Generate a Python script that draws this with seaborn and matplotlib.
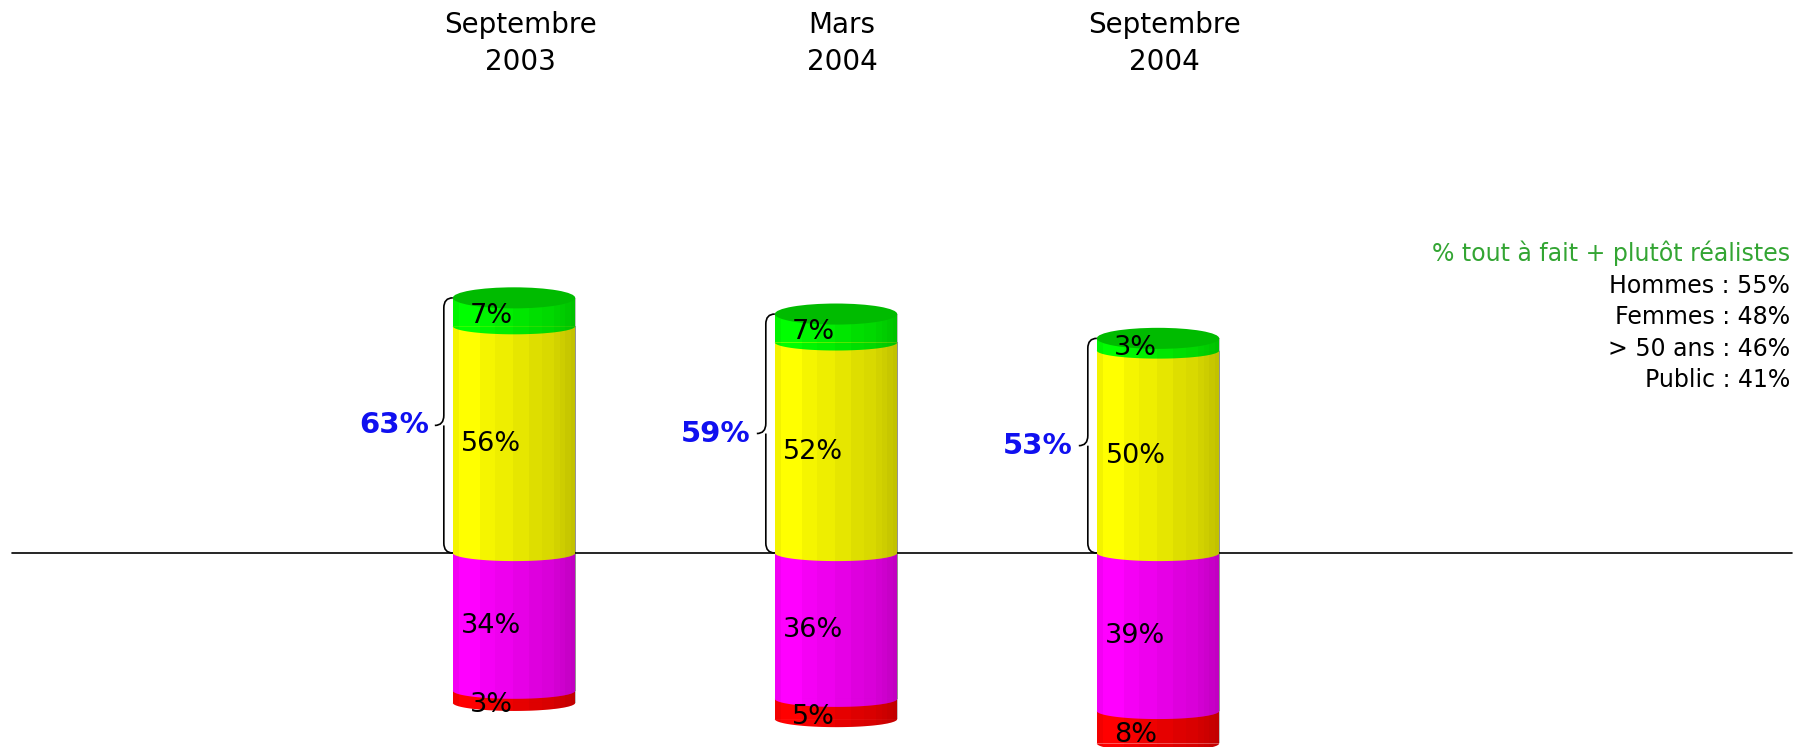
import numpy as np
import pandas as pd
import matplotlib
matplotlib.use("Agg")
import matplotlib.pyplot as plt
import seaborn as sns
from matplotlib.path import Path
from matplotlib.patches import PathPatch, Polygon, Ellipse

# ---------------- data ----------------
periodes = ["Septembre\n2003", "Mars\n2004", "Septembre\n2004"]
tout_a_fait = [7, 7, 3]          # green (top)
plutot = [56, 52, 50]            # yellow
plutot_pas = [34, 36, 39]        # magenta (below zero)
pas_du_tout = [3, 5, 8]          # red (bottom)
totaux = [63, 59, 53]            # % realistes (brace labels)
legende_titre = "% tout à fait + plutôt réalistes"
legende_lignes = ["Hommes : 55%", "Femmes : 48%", "> 50 ans : 46%", "Public : 41%"]

GREEN, YELLOW, MAGENTA, RED, CAP = "#00FF00", "#FFFF00", "#FF00FF", "#FF0000", "#00BB00"
BLUE = "#1010F0"
LEG_GREEN = "#33A533"

df = pd.DataFrame({
    "periode": periodes,
    "pos_total": np.array(plutot) + np.array(tout_a_fait),
    "jaune": plutot,
    "neg_total": -(np.array(plutot_pas) + np.array(pas_du_tout)),
    "magenta": -np.array(plutot_pas),
})

sns.set_theme(style="white")
plt.rcParams["font.family"] = ["DejaVu Sans"]
plt.rcParams["text.color"] = "black"

W_PX, H_PX = 1809, 747
fig = plt.figure(figsize=(W_PX / 100, H_PX / 100), dpi=100)
ax = fig.add_axes([0, 0, 1, 1])

X0_PX, UX = 514.0, 322.0     # px of first bar, px per category
Y0_PX, UY = 553.0, 4.05      # px of zero line, px per %
XLIM = (-X0_PX / UX, (W_PX - X0_PX) / UX)
YLIM = (-(H_PX - Y0_PX) / UY, Y0_PX / UY)
px_x = 1.0 / UX
px_y = 1.0 / UY

BW = 0.38          # bar width (category units)
HB = 2.0           # ellipse semi-height of segment edges (% units)
HC = 2.6           # semi-height of top cap

edges = np.array([0, .05, .22, .34, .49, .62, .72, .82, .87, .91, .96, 1.0])
bright = np.array([.95, 1.0, .96, .93, .90, .87, .85, .82, .80, .78, .76])
N = 240
cols = np.linspace(0, 1, N, endpoint=False) + 0.5 / N
idx = np.clip(np.searchsorted(edges, cols, side="right") - 1, 0, len(bright) - 1)
shade_img = np.zeros((1, N, 4))
shade_img[0, :, 3] = 1 - bright[idx]


def shade(patch, xc, z):
    im = ax.imshow(shade_img, extent=[xc - BW / 2, xc + BW / 2, YLIM[0], YLIM[1]],
                   aspect="auto", interpolation="nearest", zorder=z)
    im.set_clip_path(patch)


def layer(col, color, z):
    n0 = len(ax.patches)
    sns.barplot(data=df, x="periode", y=col, color=color, saturation=1, width=BW,
                errorbar=None, ax=ax, linewidth=0)
    for i, p in enumerate(ax.patches[n0:]):
        p.set_zorder(z)
        shade(p, i, z + 0.01)


def bulge(xc, base, color, z):
    t = np.linspace(np.pi, 2 * np.pi, 80)
    xs = xc + BW / 2 * np.cos(t)
    ys = base + HB * np.sin(t)
    poly = Polygon(np.column_stack([xs, ys]), closed=True, facecolor=color,
                   edgecolor="none", zorder=z)
    ax.add_patch(poly)
    shade(poly, xc, z + 0.01)


# negative side
layer("neg_total", RED, 1)
layer("magenta", MAGENTA, 2)
for i in range(len(periodes)):
    bulge(i, df["neg_total"][i], RED, 3)
    bulge(i, df["magenta"][i], MAGENTA, 4)
# positive side
layer("pos_total", GREEN, 5)
layer("jaune", YELLOW, 6)
for i in range(len(periodes)):
    bulge(i, 0, YELLOW, 7)
    bulge(i, df["jaune"][i], GREEN, 8)
    ax.add_patch(Ellipse((i, df["pos_total"][i]), BW, 2 * HC, facecolor=CAP,
                         edgecolor="none", zorder=9))

# zero line
ax.axhline(0, xmin=12 / W_PX, xmax=1792 / W_PX, color="black", lw=1.2, zorder=0.5)

# segment labels
LFS = 19.5
for i in range(len(periodes)):
    xl = i - 0.07
    g, y, m, r = tout_a_fait[i], plutot[i], plutot_pas[i], pas_du_tout[i]
    kw = dict(ha="center", va="center", fontsize=LFS, color="black", zorder=10)
    ax.text(xl, y + g / 2 - 1, f"{g}%", **kw)
    ax.text(xl, y / 2 - 1, f"{y}%", **kw)
    ax.text(xl, -m / 2 - 1, f"{m}%", **kw)
    ax.text(xl, -m - r / 2 - 2, f"{r}%", **kw)

# braces + totals
for i in range(len(periodes)):
    L = i - BW / 2
    top = df["pos_total"][i]
    bot = 0.0
    mid = (top + bot) / 2
    xl_ = L - 9 * px_x
    xt = L - 18 * px_x
    r = 10 * px_y
    verts = [(L, top), (xl_, top), (xl_, top - r),
             (xl_, mid + r),
             (xl_, mid), (xt, mid),
             (xl_, mid), (xl_, mid - r),
             (xl_, bot + r),
             (xl_, bot), (L, bot)]
    codes = [Path.MOVETO, Path.CURVE3, Path.CURVE3,
             Path.LINETO,
             Path.CURVE3, Path.CURVE3,
             Path.MOVETO, Path.CURVE3,
             Path.LINETO,
             Path.CURVE3, Path.CURVE3]
    ax.add_patch(PathPatch(Path(verts, codes), facecolor="none", edgecolor="black",
                           lw=1.2, zorder=10))
    ax.text(xt - 6 * px_x, mid, f"{totaux[i]}%", ha="right", va="center",
            fontsize=21, fontweight="bold", color=BLUE, zorder=10)

# titles
tr = matplotlib.transforms.blended_transform_factory(ax.transData, ax.transAxes)
for i, lab in enumerate(periodes):
    ax.text(i + 6 * px_x, 1 - 43.5 / H_PX, lab, ha="center", va="center",
            fontsize=20, linespacing=1.42, color="black", transform=tr)

# legend block
xr = 1790 / W_PX
fig.text(xr, 1 - 261 / H_PX, legende_titre, ha="right", va="baseline",
         fontsize=17, color=LEG_GREEN)
for k, line in enumerate(legende_lignes):
    fig.text(xr, 1 - (293 + 31.3 * k) / H_PX, line, ha="right", va="baseline",
             fontsize=17, color="black")

ax.set_xlim(*XLIM)
ax.set_ylim(*YLIM)
ax.axis("off")
fig.savefig("out.png", dpi=100, facecolor="white")
